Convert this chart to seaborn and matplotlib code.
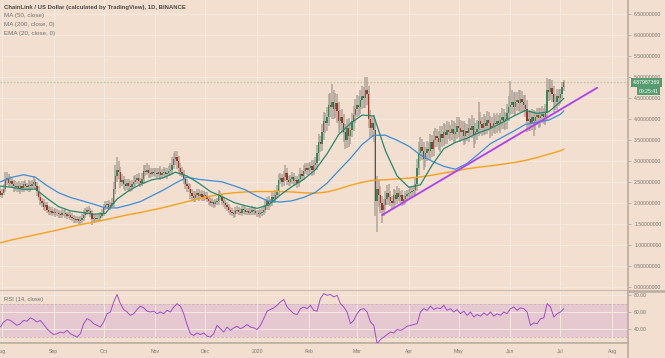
import numpy as np
import pandas as pd
import matplotlib
matplotlib.use("Agg")
import matplotlib.pyplot as plt
import matplotlib.dates as mdates
from matplotlib.lines import Line2D
import seaborn as sns

# ------------------------------------------------------------
# Data (daily LINK/USD candles, 2019-07-31 .. 2020-07-03)
# open of each day = previous close
# ------------------------------------------------------------
START = "2019-07-31"
FIRST_OPEN = 2.30

close = [
    2.20,  # Jul 31
    2.25, 2.35, 2.55, 2.60, 2.48, 2.52, 2.45, 2.40, 2.38, 2.42, 2.35, 2.40, 2.36, 2.45, 2.40, 2.38,
    2.44, 2.40, 2.46, 2.50, 2.42, 2.30, 2.15, 2.05, 2.00, 1.92, 1.95, 1.85, 1.80, 1.82, 1.78,  # Aug
    1.80, 1.76, 1.78, 1.74, 1.72, 1.76, 1.78, 1.74, 1.70, 1.72, 1.68, 1.65, 1.62, 1.60, 1.62,
    1.58, 1.60, 1.64, 1.72, 1.80, 1.84, 1.82, 1.78, 1.62, 1.65, 1.63, 1.66, 1.64, 1.70, 1.78,  # Sep
    1.90, 1.95, 1.98, 1.92, 1.96, 2.00, 2.35, 2.65, 2.80, 2.75, 2.50, 2.55, 2.45, 2.40, 2.48, 2.42,
    2.38, 2.45, 2.50, 2.55, 2.60, 2.52, 2.48, 2.58, 2.78, 2.75, 2.80, 2.72, 2.70, 2.75, 2.73,  # Oct
    2.72, 2.70, 2.74, 2.68, 2.72, 2.75, 2.70, 2.73, 2.76, 2.80, 2.92, 3.05, 3.10, 3.00, 2.85,
    2.75, 2.70, 2.58, 2.45, 2.40, 2.35, 2.25, 2.18, 2.12, 2.20, 2.25, 2.18, 2.22, 2.15, 2.20,  # Nov
    2.18, 2.10, 2.05, 2.00, 2.02, 1.98, 2.02, 2.05, 2.20, 2.15, 2.05, 2.00, 1.95, 1.90, 1.85, 1.80,
    1.78, 1.75, 1.82, 1.85, 1.80, 1.78, 1.86, 1.84, 1.80, 1.82, 1.78, 1.80, 1.84, 1.82, 1.78,  # Dec
    1.76, 1.74, 1.78, 1.80, 1.85, 1.95, 2.05, 1.98, 2.02, 2.15, 2.10, 2.20, 2.30, 2.55, 2.60, 2.50,
    2.62, 2.72, 2.55, 2.50, 2.58, 2.62, 2.52, 2.55, 2.48, 2.58, 2.70, 2.65, 2.78, 2.85, 2.80,  # Jan
    2.85, 2.88, 2.80, 2.90, 2.95, 3.20, 3.45, 3.40, 3.70, 3.95, 3.90, 4.05, 4.35, 4.30, 4.40,
    4.25, 4.38, 4.20, 3.95, 4.05, 3.90, 3.70, 3.50, 3.80, 3.60, 3.75, 3.95, 4.10, 4.25,  # Feb
    4.35, 4.30, 4.45, 4.55, 4.50, 4.70, 4.60, 4.00, 3.80, 3.90, 3.75, 2.05, 2.35, 2.20, 2.00, 1.85,
    1.95, 2.10, 2.25, 2.15, 2.05, 2.00, 2.20, 2.10, 2.25, 2.15, 2.20, 2.05, 2.10, 2.18, 2.22,  # Mar
    2.25, 2.28, 2.30, 2.32, 2.45, 2.85, 3.20, 3.35, 3.25, 3.05, 3.20, 3.30, 3.25, 3.45, 3.30,
    3.50, 3.60, 3.55, 3.45, 3.65, 3.55, 3.70, 3.62, 3.75, 3.70, 3.68, 3.78, 3.65, 3.70, 3.85,  # Apr
    3.80, 3.70, 3.75, 3.60, 3.72, 3.68, 3.80, 3.75, 3.85, 3.62, 3.70, 3.78, 3.95, 3.88, 3.80, 3.92,
    3.85, 3.98, 3.90, 3.80, 3.85, 3.92, 3.88, 3.95, 3.90, 3.98, 4.05, 3.95, 4.00, 4.15, 4.30,  # May
    4.35, 4.40, 4.30, 4.42, 4.45, 4.38, 4.48, 4.40, 4.35, 4.25, 3.95, 4.00, 3.92, 4.05, 3.95,
    4.05, 4.10, 4.02, 4.08, 4.12, 4.05, 4.15, 4.70, 4.65, 4.75, 4.60, 4.40, 4.42, 4.55, 4.50,  # Jun
    4.60, 4.78, 4.88,  # Jul
]

# wick lengths above / below the candle body, in cents
wick_up = [
    8,
    10, 12, 20, 15, 10, 14, 8, 10, 12, 8, 10, 9, 14, 8, 10, 9, 12, 8, 10, 14, 9, 8, 10, 12, 8, 10, 7, 9, 8, 10, 8,
    7, 8, 9, 6, 8, 10, 7, 8, 6, 9, 7, 8, 6, 7, 8, 6, 9, 10, 12, 9, 8, 10, 7, 6, 8, 9, 7, 8, 10, 8,
    8, 10, 7, 9, 8, 12, 15, 25, 30, 20, 12, 14, 10, 12, 9, 10, 12, 10, 14, 12, 10, 12, 9, 15, 14, 12, 15, 10, 12, 9, 10,
    10, 12, 9, 14, 10, 12, 9, 10, 12, 15, 18, 15, 15, 14, 12, 10, 12, 9, 10, 12, 8, 10, 9, 12, 10, 9, 10, 8, 9, 10,
    8, 9, 7, 8, 10, 7, 9, 8, 12, 10, 8, 9, 7, 8, 9, 6, 8, 7, 10, 8, 7, 9, 8, 7, 8, 6, 7, 8, 9, 7, 8,
    7, 8, 9, 8, 10, 12, 10, 12, 9, 11, 10, 12, 14, 15, 12, 10, 14, 18, 12, 10, 9, 12, 10, 9, 10, 12, 14, 10, 12, 12, 10,
    12, 10, 14, 12, 15, 18, 20, 16, 18, 22, 20, 24, 25, 28, 45, 30, 25, 22, 20, 18, 20, 22, 18, 20, 22, 18, 20, 22, 24,
    22, 20, 24, 25, 22, 30, 30, 20, 22, 18, 20, 25, 30, 20, 22, 18, 15, 20, 18, 22, 15, 12, 14, 12, 15, 12, 10, 12, 10, 12, 10,
    10, 12, 10, 12, 15, 20, 25, 22, 18, 20, 15, 18, 16, 20, 18, 22, 20, 18, 16, 20, 18, 22, 18, 20, 18, 16, 20, 18, 22, 20,
    20, 18, 22, 20, 18, 16, 22, 20, 25, 18, 22, 20, 45, 22, 18, 20, 16, 22, 20, 18, 20, 22, 18, 20, 16, 18, 22, 20, 18, 22, 25,
    55, 30, 25, 22, 20, 25, 22, 20, 18, 22, 20, 18, 22, 20, 18, 15, 18, 16, 18, 20, 16, 22, 28, 25, 20, 18, 20, 18, 16, 18,
    12, 10, 5,
]
wick_dn = [
    6,
    8, 6, 8, 12, 10, 8, 9, 12, 8, 10, 9, 12, 8, 10, 9, 8, 10, 12, 8, 9, 10, 12, 8, 10, 9, 8, 10, 8, 9, 7, 8,
    6, 8, 7, 9, 6, 8, 7, 9, 8, 6, 7, 8, 9, 8, 6, 7, 8, 7, 6, 8, 9, 7, 10, 14, 8, 7, 6, 8, 7, 6,
    8, 7, 9, 8, 7, 8, 10, 12, 15, 18, 14, 10, 12, 10, 9, 12, 10, 9, 8, 10, 9, 12, 10, 8, 12, 10, 8, 12, 10, 8, 9,
    9, 10, 8, 12, 9, 10, 8, 12, 9, 10, 12, 10, 14, 18, 12, 10, 8, 12, 10, 12, 9, 14, 12, 8, 10, 9, 12, 8, 10, 9,
    9, 8, 10, 7, 8, 9, 8, 7, 9, 8, 10, 8, 9, 8, 7, 9, 8, 10, 7, 8, 9, 7, 8, 9, 7, 8, 6, 7, 8, 9, 7,
    8, 7, 9, 8, 7, 9, 12, 15, 8, 9, 10, 9, 8, 12, 10, 12, 9, 10, 12, 10, 9, 12, 10, 9, 12, 10, 9, 12, 10, 9, 12,
    12, 10, 14, 12, 10, 15, 20, 18, 16, 20, 22, 18, 20, 24, 30, 25, 22, 30, 28, 20, 22, 24, 20, 18, 25, 20, 18, 22, 20,
    20, 22, 18, 20, 24, 22, 25, 20, 24, 22, 30, 35, 73, 30, 22, 32, 15, 12, 14, 18, 12, 15, 10, 14, 12, 10, 14, 12, 10, 12, 10,
    10, 9, 12, 10, 12, 15, 18, 20, 22, 25, 18, 20, 18, 22, 20, 18, 16, 20, 18, 22, 20, 18, 20, 22, 18, 20, 18, 22, 20, 18,
    22, 25, 20, 22, 18, 20, 22, 18, 20, 30, 22, 20, 18, 22, 20, 18, 22, 20, 18, 25, 20, 18, 22, 20, 18, 22, 20, 18, 20, 22, 20,
    20, 22, 18, 20, 22, 18, 20, 22, 18, 20, 25, 22, 20, 18, 35, 20, 18, 22, 20, 18, 16, 18, 20, 22, 18, 20, 22, 18, 20, 18,
    14, 12, 10,
]

# indicator lines (last point = last candle)
ma200 = [1.06, 1.13, 1.19, 1.25, 1.31, 1.37, 1.44, 1.50, 1.55, 1.61,
         1.67, 1.73, 1.78, 1.84, 1.90, 1.97, 2.04, 2.11, 2.17, 2.22,
         2.25, 2.27, 2.28, 2.28, 2.28, 2.27, 2.25, 2.24, 2.27, 2.34,
         2.43, 2.50, 2.55, 2.56, 2.58, 2.60, 2.63, 2.67, 2.72, 2.77,
         2.82, 2.86, 2.89, 2.93, 2.97, 3.02, 3.09, 3.17, 3.25, 3.29]
ma50 = [2.51, 2.62, 2.68, 2.62, 2.42, 2.25, 2.14, 2.06, 1.98, 1.89,
        1.89, 1.96, 2.04, 2.18, 2.32, 2.48, 2.62, 2.57, 2.54, 2.51,
        2.42, 2.32, 2.17, 2.05, 2.03, 2.06, 2.14, 2.26, 2.48, 2.78,
        3.07, 3.40, 3.62, 3.62, 3.50, 3.36, 3.15, 3.00, 2.88, 2.81,
        2.95, 3.18, 3.42, 3.57, 3.72, 3.88, 3.93, 3.98, 4.12, 4.20]
ema20 = [2.41, 2.38, 2.33, 2.34, 2.12, 1.92, 1.82, 1.78, 1.74, 1.76,
         2.10, 2.30, 2.45, 2.56, 2.61, 2.74, 2.65, 2.48, 2.28, 2.16,
         2.02, 1.94, 1.88, 1.96, 2.20, 2.40, 2.57, 2.80, 3.18, 3.64,
         3.90, 4.10, 4.08, 3.25, 2.65, 2.38, 2.44, 2.91, 3.30, 3.45,
         3.55, 3.68, 3.78, 3.92, 4.08, 4.21, 4.14, 4.18, 4.42, 4.50]

# RSI(14) read every second day
rsi = [42, 48, 51, 50, 47, 44, 46, 50, 49, 53,
       51, 48, 50, 45, 40, 36, 33, 34, 36, 35,
       38, 34, 32, 30, 34, 46, 52, 50, 46, 44,
       42, 48, 58, 60, 72, 81, 70, 63, 60, 56,
       58, 63, 67, 65, 61, 60, 61, 58, 60, 58,
       62, 60, 66, 70, 67, 58, 45, 34, 32, 35,
       33, 35, 31, 30, 34, 44, 40, 36, 42, 38,
       41, 43, 40, 42, 45, 42, 41, 39, 44, 52,
       61, 63, 65, 68, 72, 75, 66, 62, 58, 57,
       64, 66, 64, 68, 62, 61, 76, 82, 80, 81,
       78, 80, 70, 66, 60, 46, 50, 58, 63, 64,
       60, 48, 44, 22, 27, 30, 33, 36, 35, 39,
       38, 40, 43, 44, 45, 46, 60, 64, 62, 67,
       63, 65, 64, 68, 62, 64, 60, 63, 58, 61,
       56, 60, 54, 57, 55, 59, 56, 60, 55, 58,
       56, 60, 58, 64, 66, 62, 65, 64, 60, 44,
       47, 46, 52, 53, 70, 66, 54, 58, 60, 64]

trend_dates = ["2020-03-16", "2020-07-23"]
trend_values = [1.72, 4.75]

last_price = 4.87987369
price_ticks = [0.0, 0.5, 1.0, 1.5, 2.0, 2.5, 3.0, 3.5, 4.0, 4.5, 5.0, 5.5, 6.0, 6.5]
rsi_ticks = [40, 60, 80]
month_labels = ["Aug", "Sep", "Oct", "Nov", "Dec", "2020", "Feb", "Mar",
                "Apr", "May", "Jun", "Jul", "Aug"]

# ------------------------------------------------------------
# Style
# ------------------------------------------------------------
BG = "#f2dfcf"
GRID = "#f7eadf"
AXIS = "#b9aca0"
LABEL = "#7c7570"
UP = "#37875a"
DOWN = "#9e3529"
WICK = "#a99d94"
C_EMA = "#24896f"
C_MA50 = "#3b8fdc"
C_MA200 = "#f8a11c"
C_TREND = "#b23ef2"
C_RSI = "#a04ccc"
BAND = "#e6c8d1"
GREEN_TAG = "#559d70"

sns.set_theme(style="white", rc={"axes.facecolor": BG, "figure.facecolor": BG})
plt.rcParams["font.family"] = ["Liberation Sans", "DejaVu Sans"]

W, H = 665, 358

# ------------------------------------------------------------
# Prepare series
# ------------------------------------------------------------
closes = np.array(close, dtype=float)
opens = np.r_[FIRST_OPEN, closes[:-1]]
highs = np.maximum(opens, closes) + np.array(wick_up) / 100
lows = np.minimum(opens, closes) - np.array(wick_dn) / 100
days = pd.date_range(START, periods=len(closes), freq="D")
xd = mdates.date2num(days)

ma_days = list(pd.date_range(START, periods=len(ma200) - 1, freq="7D")) + [days[-1]]
xm = mdates.date2num(ma_days)
xr = mdates.date2num(pd.date_range(START, periods=len(rsi), freq="2D"))
xt = mdates.date2num(pd.to_datetime(trend_dates))

# ------------------------------------------------------------
# Figure
# ------------------------------------------------------------
fig = plt.figure(figsize=(W / 100, H / 100), dpi=100)
ax = fig.add_axes([0, (H - 290.7) / H, 628 / W, 290.7 / H])
axr = fig.add_axes([0, (H - 343) / H, 628 / W, (343 - 290.7) / H], sharex=ax)

# candles
ax.vlines(xd, lows, highs, color=WICK, lw=1.3, alpha=0.75, zorder=2)
body = closes - opens
body = np.where(np.abs(body) < 0.012, np.where(body < 0, -0.012, 0.012), body)
up = closes >= opens
ax.bar(xd[up], body[up], bottom=opens[up], width=0.78, color=UP, lw=0, zorder=3)
ax.bar(xd[~up], body[~up], bottom=opens[~up], width=0.78, color=DOWN, lw=0, zorder=3)

# moving averages + trend line
sns.lineplot(x=xm, y=ma200, ax=ax, color=C_MA200, lw=1.0, sort=False, zorder=4)
sns.lineplot(x=xm, y=ma50, ax=ax, color=C_MA50, lw=0.9, sort=False, zorder=4)
sns.lineplot(x=xm, y=ema20, ax=ax, color=C_EMA, lw=0.9, sort=False, zorder=4)
sns.lineplot(x=xt, y=trend_values, ax=ax, color=C_TREND, lw=1.3, sort=False, zorder=5)
ax.axhline(last_price, color="#c2c8ab", lw=1.0, ls=(0, (1.2, 1.2)), zorder=1)

# price axis
x0 = mdates.date2num(pd.Timestamp(START))
ax.set_xlim(x0 - 0.2, x0 + 376.5)
ax.set_ylim(-0.081, 6.840)
ax.yaxis.tick_right()
ax.set_yticks(price_ticks)
ax.set_yticklabels([f"{v:.8f}" for v in price_ticks])
ax.tick_params(axis="y", length=2.5, width=0.6, color=AXIS, labelsize=3.7,
               labelcolor=LABEL, pad=2)
months = mdates.date2num(pd.date_range("2019-08-01", "2020-08-01", freq="MS"))
ax.set_xticks(months)
ax.tick_params(axis="x", length=0, labelbottom=False)
ax.grid(True, color=GRID, lw=0.7)
ax.set_xlabel("")
ax.set_ylabel("")
for side in ["top", "left"]:
    ax.spines[side].set_visible(False)
ax.spines["right"].set_color(AXIS)
ax.spines["right"].set_linewidth(1.2)
ax.spines["bottom"].set_color(AXIS)
ax.spines["bottom"].set_linewidth(1.8)

# RSI panel
axr.axhspan(30, 70, color=BAND, zorder=0, lw=0)
axr.axhline(70, color="#cdb3ba", lw=0.6, ls=(0, (3, 2)), zorder=1)
axr.axhline(30, color="#cdb3ba", lw=0.6, ls=(0, (3, 2)), zorder=1)
sns.lineplot(x=xr, y=rsi, ax=axr, color=C_RSI, lw=0.7, sort=False, zorder=3)
axr.set_ylim(22.9, 85.5)
axr.yaxis.tick_right()
axr.set_yticks(rsi_ticks)
axr.set_yticklabels([f"{v:.2f}" for v in rsi_ticks])
axr.tick_params(axis="y", length=2.5, width=0.6, color=AXIS, labelsize=3.7,
                labelcolor=LABEL, pad=2)
axr.set_xticks(months)
axr.set_xticklabels(month_labels)
axr.tick_params(axis="x", length=2.5, width=0.6, color=AXIS, labelsize=3.7,
                labelcolor=LABEL, pad=2)
axr.grid(True, color=GRID, lw=0.7)
axr.set_xlabel("")
axr.set_ylabel("")
for side in ["top", "left"]:
    axr.spines[side].set_visible(False)
for side in ["right", "bottom"]:
    axr.spines[side].set_color(AXIS)
    axr.spines[side].set_linewidth(1.2)

# frame bits outside the axes
fig.add_artist(Line2D([628 / W, 1], [(H - 290.7) / H] * 2, transform=fig.transFigure,
                      color=AXIS, lw=1.8))
fig.add_artist(Line2D([628 / W] * 2, [0, (H - 343) / H], transform=fig.transFigure,
                      color=AXIS, lw=1.2))

# legend texts
fig.text(4 / W, 1 - 7.3 / H, "ChainLink / US Dollar (calculated by TradingView), 1D, BINANCE",
         fontsize=4.3, color="#4d4946", fontweight="bold", va="center")
for yy, txt in [(15.7, "MA (50, close)"), (24.7, "MA (200, close, 0)"),
                (33.3, "EMA (20, close, 0)")]:
    fig.text(4 / W, 1 - yy / H, txt, fontsize=4.5, color="#757170", va="center")
fig.text(4 / W, 1 - 299.3 / H, "RSI (14, close)", fontsize=4.2, color="#757170", va="center")

# last price tags
fig.text(646.5 / W, 1 - 82.5 / H, f"{last_price:.8f}", fontsize=3.7, color="white",
         ha="center", va="center",
         bbox=dict(boxstyle="square,pad=0.35", fc=GREEN_TAG, ec="none"))
fig.text(648.5 / W, 1 - 91.2 / H, "09:25:41", fontsize=3.7, color="white",
         ha="center", va="center",
         bbox=dict(boxstyle="square,pad=0.3", fc=GREEN_TAG, ec="none"))

fig.savefig("out.png", dpi=100, facecolor=BG)
